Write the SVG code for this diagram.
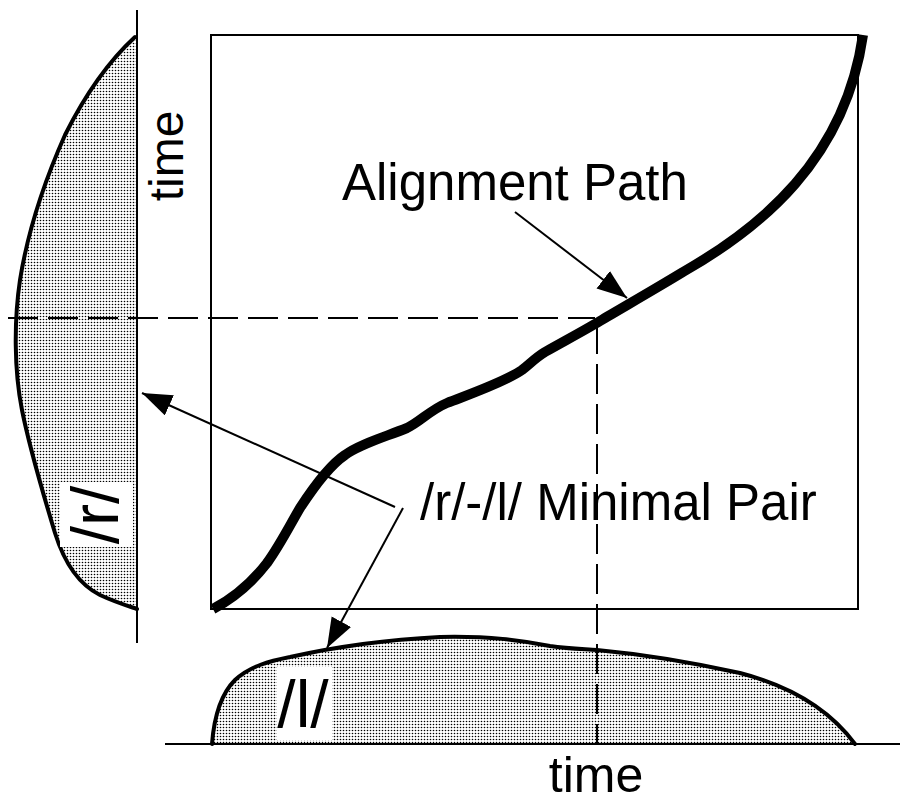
<svg xmlns="http://www.w3.org/2000/svg" width="900" height="805" viewBox="0 0 900 805">
<style>
.txt{font-family:"Liberation Sans",Arial,Helvetica,sans-serif;fill:#000}
.thin{fill:none;stroke:#000;stroke-width:2}
.dash{fill:none;stroke:#000;stroke-width:2;stroke-dasharray:30 10}
.outline{fill:none;stroke:#000;stroke-width:4;stroke-linejoin:round;stroke-linecap:round}
.stip{fill:url(#stipple);stroke:none}
.arr{fill:none;stroke:#000;stroke-width:2;marker-end:url(#ah)}
</style>
<defs>
<pattern id="stipple" patternUnits="userSpaceOnUse" width="3" height="3">
<rect width="3" height="3" fill="#fff"/>
<circle cx="1.5" cy="1.5" r="0.8" fill="#000"/>
</pattern>
<marker id="ah" markerUnits="userSpaceOnUse" markerWidth="32" markerHeight="24" refX="30" refY="11" orient="auto">
<path d="M0,0 L30,11 L0,22 Z" fill="#000"/>
</marker>
</defs>
<rect width="900" height="805" fill="#fff"/>

<g id="left-signal">
<path class="stip" d="M135,37 C110,60 85,95 65,135 C45,180 28,230 20,280 C14,320 14,370 22,410 C30,450 45,500 55,533 C65,565 80,585 100,595 C115,602 125,605 137,609 L137,37 Z"/>
<path class="outline" d="M135,37 C110,60 85,95 65,135 C45,180 28,230 20,280 C14,320 14,370 22,410 C30,450 45,500 55,533 C65,565 80,585 100,595 C115,602 125,605 137,609"/>
<line class="thin" x1="137" y1="10" x2="137" y2="643"/>
<rect x="60" y="482" width="73" height="65" fill="#fff"/>
<text class="txt" font-size="66" text-anchor="middle" transform="translate(118,515) rotate(-90)">/r/</text>
<text class="txt" font-size="48" text-anchor="middle" transform="translate(183,156) rotate(-90)">time</text>
</g>

<g id="bottom-signal">
<path class="stip" d="M212,744 C214,718 220,695 235,680 C250,666 270,661 290,657 C330,648 380,640 440,637 C490,636 520,640 550,646 C570,649 585,649 597,650 C640,654 690,662 740,673 C790,686 830,710 855,744 Z"/>
<path class="outline" d="M212,744 C214,718 220,695 235,680 C250,666 270,661 290,657 C330,648 380,640 440,637 C490,636 520,640 550,646 C570,649 585,649 597,650 C640,654 690,662 740,673 C790,686 830,710 855,744"/>
<line class="thin" x1="165" y1="744" x2="900" y2="744"/>
<rect x="277" y="667" width="55" height="73" fill="#fff"/>
<text class="txt" font-size="66" text-anchor="middle" x="303" y="727">/l/</text>
<text class="txt" font-size="50" text-anchor="middle" x="596" y="792">time</text>
</g>

<g id="alignment-grid">
<rect class="thin" x="211" y="35" width="647" height="574"/>
<path fill="none" stroke="#000" stroke-width="10" stroke-linecap="butt" stroke-linejoin="round" d="M213,609 C230,600 250,585 267,563 C280,545 290,525 300,508 C315,485 330,465 345,455 C360,444 385,437 407,428 C420,422 430,410 447,403 C470,394 505,382 522,370 C530,364 535,358 545,352 C570,338 585,330 600,321 C620,309 650,292 683,272 C760,228 845,160 863,35"/>
<text class="txt" font-size="51" x="342" y="200">Alignment Path</text>
<text class="txt" font-size="51" x="420" y="520">/r/-/l/ Minimal Pair</text>
</g>

<g id="connectors">
<line class="dash" x1="8" y1="318" x2="595" y2="318"/>
<line class="dash" x1="597" y1="324" x2="597" y2="744"/>
<line class="arr" x1="515" y1="212" x2="627" y2="298"/>
<line class="arr" x1="395" y1="507" x2="142" y2="393"/>
<line class="arr" x1="403" y1="508" x2="327" y2="648"/>
</g>
</svg>
